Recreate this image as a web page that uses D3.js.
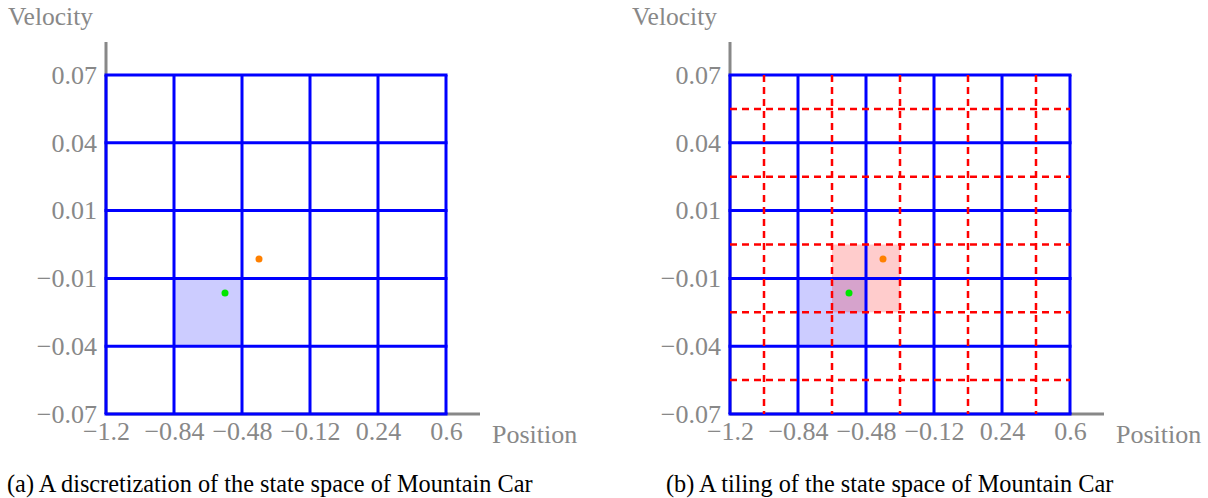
<!DOCTYPE html>
<html>
<head>
<meta charset="utf-8">
<script src="https://cdn.jsdelivr.net/npm/d3@7.9.0/dist/d3.min.js"></script>
<style>
  body { margin: 0; background: #fff; }
  svg text { font-family: 'Liberation Serif', 'Times New Roman', serif; }
</style>
</head>
<body>
<svg id="chart" width="1208" height="498"></svg>
<script>
// bin edges of the discretization (5 x 5 grid)
const posEdges = [-1.2, -0.84, -0.48, -0.12, 0.24, 0.6];
const velEdges = [-0.07, -0.042, -0.014, 0.014, 0.042, 0.07];
const posTickLabels = ['−1.2', '−0.84', '−0.48', '−0.12', '0.24', '0.6'];
const velTickLabels = ['−0.07', '−0.04', '−0.01', '0.01', '0.04', '0.07'];

// second tiling, shifted by half a cell
const tilePos = [-1.02, -0.66, -0.30, 0.06, 0.42];
const tileVel = [-0.056, -0.028, 0, 0.028, 0.056];

// active cells and the two states
const blueCell = { p0: -0.84, p1: -0.48, v0: -0.042, v1: -0.014 };
const redCell = { p0: -0.66, p1: -0.30, v0: -0.028, v1: 0 };
const states = [
  { p: -0.39, v: -0.006, color: '#ff8000' },
  { p: -0.57, v: -0.020, color: '#00e600' }
];

const captions = [
  '(a) A discretization of the state space of Mountain Car',
  '(b) A tiling of the state space of Mountain Car'
];

const svg = d3.select('#chart');
const gray = '#888888';

function drawPanel(offsetX, tiled, caption, captionX) {
  let g = svg.append('g').attr('transform', `translate(${offsetX},0)`);

  let x = d3.scaleLinear().domain([-1.2, 0.6]).range([106, 446]);
  let y = d3.scaleLinear().domain([-0.07, 0.07]).range([414, 75]);

  // shaded cells
  g.append('rect')
    .attr('x', x(blueCell.p0)).attr('y', y(blueCell.v1))
    .attr('width', x(blueCell.p1) - x(blueCell.p0))
    .attr('height', y(blueCell.v0) - y(blueCell.v1))
    .attr('fill', 'rgb(0,0,255)').attr('fill-opacity', 0.2);

  if (tiled) {
    g.append('rect')
      .attr('x', x(redCell.p0)).attr('y', y(redCell.v1))
      .attr('width', x(redCell.p1) - x(redCell.p0))
      .attr('height', y(redCell.v0) - y(redCell.v1))
      .attr('fill', 'rgb(255,0,0)').attr('fill-opacity', 0.2);
  }

  // gray axis lines
  g.append('line')
    .attr('x1', x(-1.2)).attr('x2', x(-1.2))
    .attr('y1', y(-0.07)).attr('y2', y(0.07) - 33)
    .attr('stroke', gray).attr('stroke-width', 3);
  g.append('line')
    .attr('x1', x(-1.2)).attr('x2', x(0.6) + 34)
    .attr('y1', y(-0.07)).attr('y2', y(-0.07))
    .attr('stroke', gray).attr('stroke-width', 3);

  // blue grid
  g.selectAll('line.vgrid').data(posEdges).join('line')
    .attr('class', 'vgrid')
    .attr('x1', (d) => x(d)).attr('x2', (d) => x(d))
    .attr('y1', y(-0.07)).attr('y2', y(0.07))
    .attr('stroke', '#0000ff').attr('stroke-width', 3);
  g.selectAll('line.hgrid').data(velEdges).join('line')
    .attr('class', 'hgrid')
    .attr('x1', x(-1.2) - 1.5).attr('x2', x(0.6) + 1.5)
    .attr('y1', (d) => y(d)).attr('y2', (d) => y(d))
    .attr('stroke', '#0000ff').attr('stroke-width', 3);

  // red dashed tiling
  if (tiled) {
    g.selectAll('line.vtile').data(tilePos).join('line')
      .attr('class', 'vtile')
      .attr('x1', (d) => x(d)).attr('x2', (d) => x(d))
      .attr('y1', y(0.07)).attr('y2', y(-0.07))
      .attr('stroke', '#ff0000').attr('stroke-width', 2.5)
      .attr('stroke-dasharray', '7,5');
    g.selectAll('line.htile').data(tileVel).join('line')
      .attr('class', 'htile')
      .attr('x1', x(-1.2)).attr('x2', x(0.6))
      .attr('y1', (d) => y(d)).attr('y2', (d) => y(d))
      .attr('stroke', '#ff0000').attr('stroke-width', 2.5)
      .attr('stroke-dasharray', '7,5');
  }

  // states
  g.selectAll('circle').data(states).join('circle')
    .attr('cx', (d) => x(d.p)).attr('cy', (d) => y(d.v))
    .attr('r', 3.5).attr('fill', (d) => d.color);

  // tick labels
  let yAxis = d3.axisLeft(y).tickValues(velEdges)
    .tickFormat((d, i) => velTickLabels[i]).tickSize(0).tickPadding(9);
  let yg = g.append('g').attr('transform', `translate(${x(-1.2)},0)`).call(yAxis);
  yg.select('.domain').remove();
  yg.selectAll('text').attr('fill', gray).attr('font-size', 26);

  let xAxis = d3.axisBottom(x).tickValues(posEdges)
    .tickFormat((d, i) => posTickLabels[i]).tickSize(0).tickPadding(8);
  let xg = g.append('g').attr('transform', `translate(0,${y(-0.07)})`).call(xAxis);
  xg.select('.domain').remove();
  xg.selectAll('text').attr('fill', gray).attr('font-size', 26);

  // axis titles
  g.append('text').attr('x', 8).attr('y', 25)
    .attr('fill', gray).attr('font-size', 25.5).text('Velocity');
  g.append('text').attr('x', x(0.6) + 46).attr('y', 443)
    .attr('fill', gray).attr('font-size', 26).text('Position');

  // caption
  g.append('text').attr('x', captionX).attr('y', 492)
    .attr('fill', '#000').attr('font-size', 24.3).text(caption);
}

drawPanel(0, false, captions[0], 7);
drawPanel(624, true, captions[1], 42);
</script>
</body>
</html>
